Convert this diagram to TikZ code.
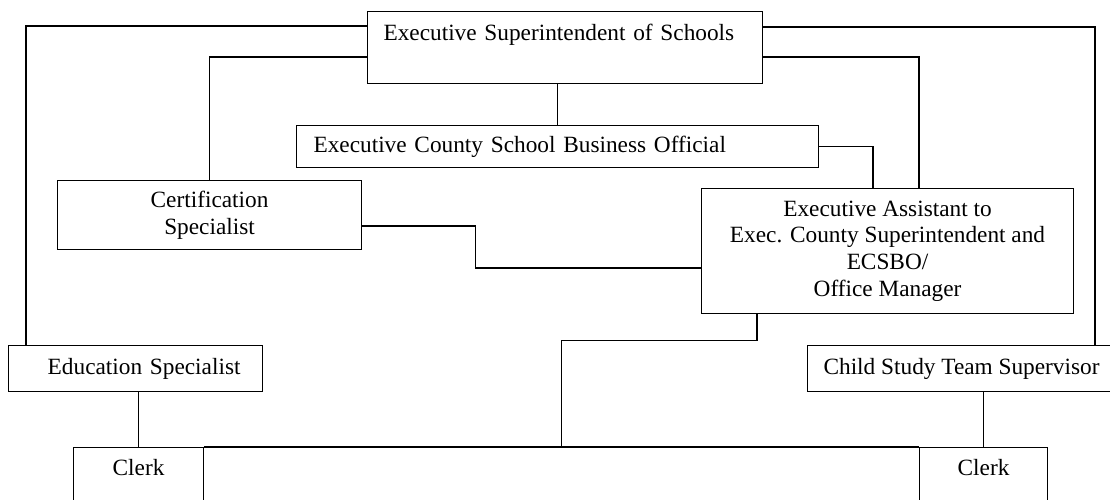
\documentclass[tikz,border=0pt]{standalone}
\usepackage{fontspec}
\setmainfont{Liberation Serif}
\usetikzlibrary{calc}
\begin{document}
\begin{tikzpicture}[x=0.02cm, y=-0.02cm, line width=0.65pt,
  every node/.style={font=\fontsize{13.26}{15.1}\selectfont},
  box/.style={draw, line width=0.65pt, anchor=north west, inner sep=0pt}]
\clip (0,0) rectangle (1110,500);
% Superintendent and Business Official
\node [box, text width=7.26cm, inner xsep=0.32cm, text height=0.58cm, text depth=0.86cm, align=left] (sup) at (367,11) {Executive Superintendent of Schools};
\node [box, text width=9.76cm, inner xsep=0.34cm, minimum height=0.84cm, align=left] (bus) at (296,125) {Executive County School Business Official};
% Certification Specialist and Executive Assistant
\node [box, minimum width=6.08cm, minimum height=1.38cm, align=center] (cert) at (57,180) {Certification\\Specialist};
\node [box, minimum width=7.44cm, minimum height=2.5cm, align=center] (ea) at (701,188) {Executive Assistant to\\Exec. County Superintendent and\\ECSBO/\\Office Manager};
% Specialists and Supervisor
\node [box, text width=4.2cm, inner xsep=0.44cm, minimum height=0.92cm, align=right] (edu) at (8,345) {Education Specialist};
\node [box, inner xsep=0.32cm, minimum height=0.92cm] (cst) at (807,345) {Child Study Team Supervisor};
% Clerks
\node [box, minimum width=2.6cm, text height=0.56cm, text depth=1.1cm] (clerkA) at (73,447) {Clerk};
\node [box, minimum width=2.56cm, text height=0.56cm, text depth=1.1cm] (clerkB) at (919,447) {Clerk};
% Lines from the Superintendent
\draw ($(sup.north west)+(0,15)$) -| ($(edu.north west)+(18,0)$);
\draw ($(sup.north west)+(0,46)$) -| (cert.north);
\draw (bus.north |- sup.south) -- (bus.north);
\draw ($(sup.north east)+(0,16)$) -| ($(cst.north west)+(288,0)$);
\draw ($(sup.north east)+(0,46)$) -| ($(ea.north west)+(218,0)$);
% Lines to the Executive Assistant
\draw (bus.east) -| ($(ea.north west)+(172,0)$);
\draw ($(cert.east)+(0,11)$) -- ++(113,0) |- ($(ea.north west)+(0,80)$);
\draw ($(ea.south west)+(56,0)$) -- ++(0,26) -| ($(clerkA.north east)!.5!(clerkB.north west)$);
% Clerk line
\draw (clerkA.north east) -- (clerkB.north west);
\draw (edu.south -| clerkA.north) -- (clerkA.north);
\draw (cst.south -| clerkB.north) -- (clerkB.north);
\end{tikzpicture}
\end{document}
